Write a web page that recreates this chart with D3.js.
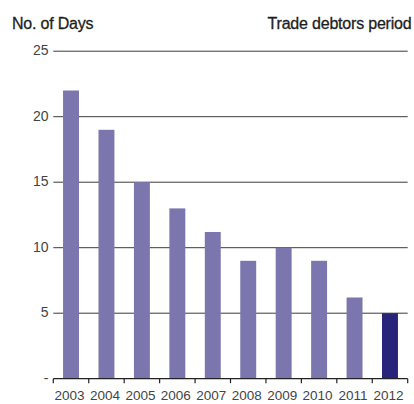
<!DOCTYPE html>
<html>
<head>
<meta charset="utf-8">
<script src="https://cdn.jsdelivr.net/npm/d3@7"></script>
<style>
  html, body { margin: 0; padding: 0; background: #fff; }
  svg { display: block; }
  .narrow { font-family: "Liberation Sans Narrow", "Arial Narrow", "Liberation Sans", Arial, sans-serif; }
  .title { font-family: "Liberation Sans", Arial, Helvetica, sans-serif; }
</style>
</head>
<body>
<svg id="chart" width="414" height="404"></svg>
<script>
// Trade debtors period, in days, per year
const years = ["2003", "2004", "2005", "2006", "2007", "2008", "2009", "2010", "2011", "2012"];
const days = [22, 19, 15, 13, 11.2, 9, 10, 9, 6.2, 5];
const yTicks = [0, 5, 10, 15, 20, 25];
const yTickLabels = ["-", "5", "10", "15", "20", "25"];
const highlightYear = "2012";

const svg = d3.select("#chart");
const margin = { left: 53.3, right: 6.3, top: 51.2, bottom: 25.3 };
const W = 414, H = 404;

const x = d3.scaleBand()
  .domain(years)
  .range([margin.left, W - margin.right])
  .paddingInner(0.55)
  .paddingOuter(0.275);

const y = d3.scaleLinear()
  .domain([0, 25])
  .range([H - margin.bottom, margin.top]);

// Horizontal gridlines
svg.append("g")
  .selectAll("line")
  .data(yTicks.filter(d => d > 0))
  .join("line")
  .attr("x1", margin.left)
  .attr("x2", W - margin.right)
  .attr("y1", d => y(d))
  .attr("y2", d => y(d))
  .attr("stroke", "#3a3a3a")
  .attr("stroke-width", 1);

// Y tick labels
svg.append("g")
  .selectAll("text")
  .data(yTicks)
  .join("text")
  .attr("class", "narrow")
  .attr("x", 48.5)
  .attr("y", d => y(d))
  .attr("dy", "0.28em")
  .attr("text-anchor", "end")
  .attr("font-size", 14)
  .attr("fill", "#444")
  .text((d, i) => yTickLabels[i]);

// Bars
svg.append("g")
  .selectAll("rect")
  .data(years.map((yr, i) => ({ year: yr, value: days[i] })))
  .join("rect")
  .attr("x", d => x(d.year))
  .attr("width", x.bandwidth())
  .attr("y", d => y(d.value))
  .attr("height", d => y(0) - y(d.value))
  .attr("fill", d => d.year === highlightYear ? "#28247a" : "#7b77ae");

// X axis with ticks at band boundaries
const xAxisG = svg.append("g").attr("transform", `translate(0,${y(0)})`);
xAxisG.append("line")
  .attr("x1", margin.left)
  .attr("x2", W - margin.right)
  .attr("stroke", "#222")
  .attr("stroke-width", 1.3);

const step = x.step();
const boundaries = d3.range(years.length + 1).map(i => margin.left + i * step);
xAxisG.selectAll("line.tick")
  .data(boundaries)
  .join("line")
  .attr("class", "tick")
  .attr("x1", d => d)
  .attr("x2", d => d)
  .attr("y1", 0)
  .attr("y2", 4.5)
  .attr("stroke", "#222")
  .attr("stroke-width", 1.2);

xAxisG.selectAll("text")
  .data(years)
  .join("text")
  .attr("class", "narrow")
  .attr("x", d => x(d) + x.bandwidth() / 2 - 1.5)
  .attr("y", 21.8)
  .attr("text-anchor", "middle")
  .attr("font-size", 13.5)
  .attr("fill", "#444")
  .text(d => d);

// Titles
svg.append("text")
  .attr("class", "title")
  .attr("x", 12)
  .attr("y", 29)
  .attr("font-size", 16)
  .attr("letter-spacing", -0.2)
  .attr("fill", "#1e1e1e")
  .attr("stroke", "#1e1e1e")
  .attr("stroke-width", 0.3)
  .text("No. of Days");

svg.append("text")
  .attr("class", "title")
  .attr("x", 411.5)
  .attr("y", 29)
  .attr("text-anchor", "end")
  .attr("font-size", 16)
  .attr("letter-spacing", -0.2)
  .attr("fill", "#1e1e1e")
  .attr("stroke", "#1e1e1e")
  .attr("stroke-width", 0.3)
  .text("Trade debtors period");
</script>
</body>
</html>
